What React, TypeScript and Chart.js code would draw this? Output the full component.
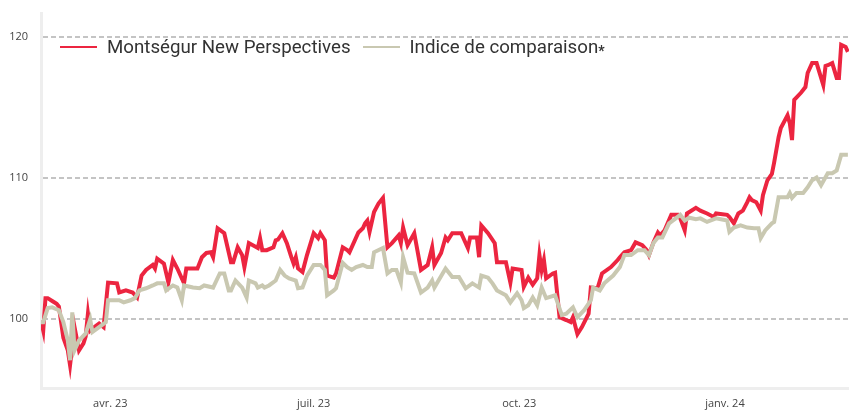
import React, { useEffect, useRef } from "react";
import { Chart, registerables } from "chart.js";

Chart.register(...registerables);

// Day offsets counted from 1 March 2023
const START_DATE = "2023-03-01";

const montsegurDays = [0,1,2,3,5,7,8,10,12,13,15,17,19,20,21,22,23,26,28,30,34,35,38,41,43,45,47,50,51,52,55,57,59,61,64,65,70,72,74,76,77,79,82,85,86,88,90,91,93,97,98,99,101,104,105,106,108,110,112,113,114,115,117,119,122,124,125,127,128,131,132,135,137,138,142,144,145,146,147,149,151,153,155,157,160,161,162,164,167,170,173,175,176,179,181,182,184,188,191,192,195,196,197,200,203,204,208,210,211,215,216,218,220,222,223,224,225,226,229,230,232,235,237,238,240,242,245,246,249,251,255,258,259,261,264,266,269,271,272,274,276,277,279,282,285,286,288,289,293,295,298,301,302,307,308,310,312,314,316,317,318,320,322,323,325,327,328,330,331,334,335,336,337,340,342,343,345,347,350,351,352,354,356,357,358,360,361];
const montsegurValues = [99.9,99.2,101.5,101.5,101.3,101.1,100.9,98.7,97.8,96.75,99.45,97.8,98.3,98.8,100.4,99.2,99.35,99.7,99.45,102.6,102.55,101.9,102.05,101.9,101.55,103.1,103.5,103.85,103.6,104.3,103.95,102.6,104.2,103.6,102.55,103.6,103.6,104.4,104.7,104.75,104.4,106.45,106.1,104.05,104.05,105.1,104.55,103.7,105.4,105.05,105.75,104.9,104.9,105.1,105.6,105.65,106.1,105.4,104.4,103.95,104.4,103.6,103.35,104.55,106.1,105.75,106.1,105.6,103.1,102.95,103.25,105.1,104.9,104.75,106.15,106.45,106.8,107.0,106.2,107.6,108.2,108.6,105.1,105.4,105.95,105.4,106.5,105.25,106.1,103.5,103.85,105.1,103.85,104.7,105.8,105.6,106.1,106.1,105.05,105.8,105.8,104.4,106.65,106.1,105.4,104.05,104.05,102.6,103.6,103.5,102.3,102.95,102.45,102.9,104.55,103.5,104.2,102.9,103.25,103.3,100.15,99.95,99.8,100.15,98.95,99.45,100.4,102.25,102.2,103.25,103.7,104.2,104.4,104.75,104.9,105.45,105.25,104.9,104.55,105.45,106.15,105.95,106.3,107.4,107.4,107.15,106.3,107.5,107.9,107.7,107.5,107.25,107.5,107.4,107.25,106.8,107.5,107.7,108.3,108.65,108.45,108.3,107.7,108.8,109.85,110.3,111.1,112.9,113.55,114.45,113.9,112.7,115.55,116.05,116.45,117.45,118.15,118.15,116.6,117.95,118.0,118.15,117.1,117.1,119.45,119.3,118.95];

const indexDays = [0,1,3,5,8,10,12,13,14,15,17,20,22,23,26,29,30,35,37,40,42,44,47,50,52,55,56,59,61,63,64,68,71,73,77,80,82,84,85,87,90,92,93,96,97,99,100,102,105,107,109,111,114,115,117,119,122,125,127,128,131,132,135,137,139,141,144,146,148,149,153,155,157,159,161,162,164,167,170,173,175,176,181,184,187,190,193,196,197,200,202,204,208,210,213,215,216,218,220,222,224,226,230,233,235,238,240,243,246,247,250,252,256,259,261,264,267,270,272,274,276,278,281,284,286,288,290,293,295,298,302,307,308,310,313,316,319,321,322,324,327,328,330,334,335,336,338,341,343,345,347,349,352,354,356,358,361];
const indexValues = [99.8,99.8,100.8,100.85,100.65,99.8,98.5,97.1,100.5,97.8,98.5,99.0,100.0,99.1,99.45,99.8,101.35,101.35,101.2,101.35,101.5,102.05,102.2,102.4,102.55,102.55,102.05,102.4,102.25,101.35,102.4,102.25,102.2,102.4,102.25,103.25,103.25,102.05,102.05,102.75,102.25,101.55,102.75,102.55,102.25,102.4,102.25,102.4,102.75,103.5,103.1,102.9,102.75,102.2,102.25,103.1,103.85,103.85,103.5,101.7,102.05,102.2,104.0,103.7,103.5,103.7,103.85,103.7,103.7,104.75,105.05,103.25,103.5,103.5,102.6,104.4,103.3,103.25,101.9,102.25,102.75,102.25,103.6,103.0,103.0,102.2,102.55,102.25,103.1,102.95,102.55,102.05,101.7,101.2,101.85,101.35,100.8,101.0,101.55,101.0,102.25,101.5,101.7,100.3,100.4,100.85,100.15,100.65,101.35,102.25,102.05,102.55,103.1,103.7,104.55,104.55,104.9,104.9,104.55,105.4,105.8,105.8,106.8,107.15,107.4,107.0,107.2,107.1,107.15,106.9,107.15,107.0,106.2,106.5,106.65,106.5,106.45,106.45,105.75,106.3,106.8,106.9,108.65,108.65,108.95,108.6,108.95,108.95,109.35,109.85,110.05,109.5,110.35,110.35,110.55,111.65,111.65];

const tickDays = [31, 122, 214, 306];
const tickLabels = ["avr. 23", "juil. 23", "oct. 23", "janv. 24"];
const yTicks = [100, 110, 120];

const seriesNames = ["Montségur New Perspectives", "Indice de comparaison"];
const footnoteMark = "*";
const RED = "#ec2540";
const BEIGE = "#c9c8b1";

export default function App() {
  const canvasRef = useRef<HTMLCanvasElement | null>(null);

  useEffect(() => {
    document.body.style.margin = "0";
    const canvas = canvasRef.current;
    if (!canvas) return;
    const chart = new Chart(canvas, {
      type: "line",
      data: {
        datasets: [
          {
            label: seriesNames[0],
            data: montsegurDays.map((d, i) => ({ x: d, y: montsegurValues[i] })),
            borderColor: RED,
            backgroundColor: RED,
            borderWidth: 4,
            pointRadius: 0,
            tension: 0,
            order: 1,
          },
          {
            label: seriesNames[1] + footnoteMark,
            data: indexDays.map((d, i) => ({ x: d, y: indexValues[i] })),
            borderColor: BEIGE,
            backgroundColor: BEIGE,
            borderWidth: 4,
            pointRadius: 0,
            tension: 0,
            order: 0,
          },
        ],
      },
      options: {
        responsive: false,
        animation: false,
        devicePixelRatio: 1,
        layout: { padding: { top: 13, left: 0, right: 0, bottom: 0 } },
        plugins: { legend: { display: false }, tooltip: { enabled: false } },
        scales: {
          x: {
            type: "linear",
            min: 0,
            max: 361.5,
            afterBuildTicks: (axis: any) => {
              axis.ticks = tickDays.map((v) => ({ value: v }));
            },
            afterFit: (axis: any) => {
              axis.height = 22.5;
            },
            ticks: {
              autoSkip: false,
              maxRotation: 0,
              padding: 9,
              color: "#444",
              font: { family: "'Open Sans'", size: 11 },
              callback: (_v: any, i: number) => tickLabels[i],
            },
            grid: { display: false, drawTicks: false },
            border: { display: true, color: "#eeeeee", width: 3 },
          },
          y: {
            type: "linear",
            min: 95.1,
            max: 121.7,
            afterBuildTicks: (axis: any) => {
              axis.ticks = yTicks.map((v) => ({ value: v }));
            },
            afterFit: (axis: any) => {
              axis.width = 41;
            },
            ticks: {
              padding: 5,
              color: "#444",
              font: { family: "'Open Sans'", size: 11 },
            },
            grid: {
              color: "#c4c4c4",
              lineWidth: 2,
              drawTicks: true,
              tickLength: 8,
              tickColor: "rgba(0,0,0,0)",
            },
            border: { display: true, color: "#eeeeee", width: 3, dash: [5, 3] },
          },
        },
      },
    });
    return () => chart.destroy();
  }, []);

  const legendItem = (color: string, content: React.ReactNode, gap: number) => (
    <div style={{ display: "flex", alignItems: "center", marginRight: gap }}>
      <div style={{ width: 37, height: 2.5, background: color, marginRight: 10 }} />
      <span>{content}</span>
    </div>
  );

  return (
    <div style={{ position: "fixed", left: 0, top: 0, width: 849, height: 411, background: "#fff" }}>
      <canvas ref={canvasRef} width={849} height={411} style={{ display: "block" }} />
      <div
        style={{
          position: "absolute",
          left: 60,
          top: 36,
          height: 22,
          display: "flex",
          alignItems: "center",
          fontFamily: "Roboto, sans-serif",
          fontSize: 18.7,
          color: "#333",
          whiteSpace: "nowrap",
        }}
      >
        {legendItem(RED, seriesNames[0], 12)}
        {legendItem(
          BEIGE,
          <>
            {seriesNames[1]}
            <span style={{ fontSize: 14, position: "relative", top: 3, fontWeight: 700 }}>{footnoteMark}</span>
          </>,
          0
        )}
      </div>
    </div>
  );
}
